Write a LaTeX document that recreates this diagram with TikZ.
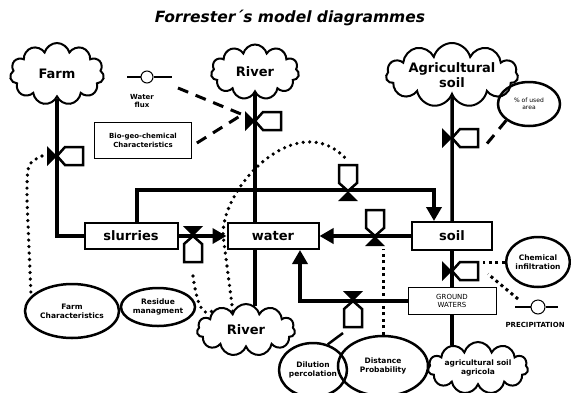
\documentclass[tikz,border=0pt]{standalone}
\usepackage{fontspec}
\setmainfont{DejaVu Sans}
\usetikzlibrary{shapes.geometric,shapes.symbols,arrows.meta}

\tikzset{
  flowline/.style={line width=3.5pt},
  flowarrow/.style={line width=3.5pt,-{Triangle[length=14pt,width=15pt]}},
  stock/.style={draw, line width=2pt, minimum height=26pt, inner sep=0pt,
    font=\bfseries\fontsize{13}{13}\selectfont},
  infobox/.style={draw, line width=0.8pt, inner sep=0pt, align=center},
  aux/.style={ellipse, draw, line width=2.5pt, inner sep=0pt, align=center,
    font=\bfseries\fontsize{7.5}{9}\selectfont},
  source/.style={cloud, cloud puffs=11, cloud ignores aspect, draw, line width=2pt,
    inner sep=0pt, align=center, font=\bfseries\fontsize{13}{15}\selectfont},
  dotline/.style={line width=3.6pt, line cap=round, dash pattern=on 0pt off 6.5pt},
  sqdots/.style={line width=3pt, dash pattern=on 3pt off 3.5pt},
  bigdash/.style={line width=3pt, dash pattern=on 11pt off 8pt},
  valve/.pic={
    \fill (0,0) -- (-10,10) -- (10,10) -- cycle;
    \draw[line width=2.5pt, fill=white] (0,0) -- (-9,-8) -- (-9,-26) -- (9,-26) -- (9,-8) -- cycle;
  }
}

\begin{document}
\begin{tikzpicture}[x=1pt,y=-1pt]
\useasboundingbox (0,0) rectangle (571,392);

\node (title) at (290,18) {\fontsize{15.5}{16}\selectfont\bfseries\itshape Forrester´s model diagrammes};

% sources and sinks
\node[source, minimum width=94pt, minimum height=62pt] (farm) at (57,74) {Farm};
\node[source, minimum width=88pt, minimum height=55pt] (riverTop) at (255,72) {River};
\node[source, minimum width=132pt, minimum height=64pt] (agriSoil) at (452,75) {Agricultural\\soil};
\node[source, minimum width=98pt, minimum height=52pt] (riverBot) at (246,330) {River};
\node[source, minimum width=100pt, minimum height=52pt, font=\bfseries\fontsize{7.5}{9.5}\selectfont] (agriBot) at (478,368) {agricultural soil\\agricola};

% stocks
\node[stock, minimum width=93pt] (slurries) at (131,236) {slurries};
\node[stock, minimum width=91pt] (water) at (273,236) {water};
\node[stock, minimum width=80pt, minimum height=28pt] (soil) at (452,236) {soil};
\node[infobox, minimum width=88pt, minimum height=27pt, font=\fontsize{7}{8.5}\selectfont] (ground) at (452,301) {GROUND\\WATERS};
\node[infobox, minimum width=97pt, minimum height=36pt, font=\bfseries\fontsize{7}{9}\selectfont] (biogeo) at (143,140) {Bio-geo-chemical\\Characteristics};

% auxiliaries
\node[aux, minimum width=62pt, minimum height=44pt, font=\fontsize{6}{7.5}\selectfont] (usedArea) at (529,104) {\% of used\\area};
\node[aux, minimum width=60pt, minimum height=50pt] (chemInf) at (538,262) {Chemical\\infiltration};
\node[aux, minimum width=94pt, minimum height=54pt] (farmChar) at (72,311) {Farm\\Characteristics};
\node[aux, minimum width=74pt, minimum height=38pt] (residue) at (158,307) {Residue\\managment};
\node[aux, minimum width=60pt, minimum height=54pt] (dilution) at (313,370) {Dilution\\percolation};
\node[aux, minimum width=90pt, minimum height=60pt] (distance) at (383,366) {Distance\\Probability};

% flux and precipitation symbols
\node[circle, draw, line width=1pt, minimum size=12pt, inner sep=0pt] (flux) at (147,77) {};
\node[font=\bfseries\fontsize{7}{8.5}\selectfont, align=center] (fluxlbl) at (142,101) {Water\\flux};
\node[circle, draw, line width=1pt, minimum size=14pt, inner sep=0pt] (precip) at (538,307) {};
\node[anchor=west, font=\bfseries\fontsize{7}{8}\selectfont] (preciplbl) at (502,325) {PRECIPITATION};
\draw[line width=1.5pt] ([xshift=-20pt]flux.center) -- (flux.west) (flux.east) -- ([xshift=25pt]flux.center);
\draw[line width=1.5pt] ([xshift=-23pt]precip.center) -- (precip.west) (precip.east) -- ([xshift=20pt]precip.center);

\coordinate (riverBotTop) at (255,306);
\coordinate (agriBotTop) at (452,345);

% flows
\draw[flowline] (farm.south) |- (slurries.west);
\draw[flowarrow] ([xshift=6pt]slurries.north) -- ++(0,-32) -| ([xshift=-18pt]soil.north);
\draw[flowarrow] (slurries.east) -- (water.west);
\draw[flowarrow] (soil.west) -- (water.east);
\draw[flowarrow] (ground.west) -| ([xshift=27pt]water.south);
\draw[flowline] (riverTop.south) -- (riverTop.south |- water.north);
\draw[flowline] (water.south -| riverTop) -- (riverBotTop);
\foreach \from/\to in {agriSoil.south/soil.north, soil.south/ground.north, ground.south/agriBotTop}
  \draw[flowline] (\from) -- (\to);

% valves
\coordinate (vFarm) at (57,156);
\coordinate (vRiver) at (255,121);
\coordinate (vAgri) at (452,138);
\coordinate (vSoilGround) at (452,271);
\coordinate (vTop) at (348,191);
\coordinate (vSoilWater) at (375,236);
\coordinate (vSlurries) at (193,236);
\coordinate (vGround) at (353,301);

\foreach \v/\r in {vFarm/-90, vRiver/-90, vAgri/-90, vSoilGround/-90, vTop/0, vSoilWater/0, vSlurries/180, vGround/180}
  \pic[rotate=\r] at (\v) {valve};

% information links
\draw[dotline] ([xshift=-15pt]vFarm) .. controls (27,163) .. (27,200) -- (farmChar.160);
\draw[dotline] ([yshift=-40pt]vSlurries) .. controls (197,305) and (203,318) .. (riverBot.150);
\draw[dotline] (riverBot.125) -- (223,235) .. controls (222,185) and (300,105) .. ([yshift=30pt]vTop);
\draw[bigdash] ([xshift=31pt,yshift=-11pt]flux.center) -- ([xshift=-14pt,yshift=7pt]vRiver);
\draw[bigdash] ([xshift=5pt,yshift=-3pt]biogeo.east) -- ([xshift=-15pt,yshift=5pt]vRiver);
\draw[bigdash] (usedArea.south west) -- ([xshift=33pt,yshift=-8pt]vAgri);
\draw[sqdots] (distance.north) -- ++(0,-86);
\draw[sqdots] (chemInf.west) -- ++(-22,0);
\draw[sqdots] ([xshift=-20pt,yshift=8pt]precip.center) -- ([xshift=36pt,yshift=-3pt]vSoilGround);
\draw[line width=2.5pt] (dilution.60) -- ([xshift=-10pt,yshift=-32pt]vGround);

\end{tikzpicture}
\end{document}
